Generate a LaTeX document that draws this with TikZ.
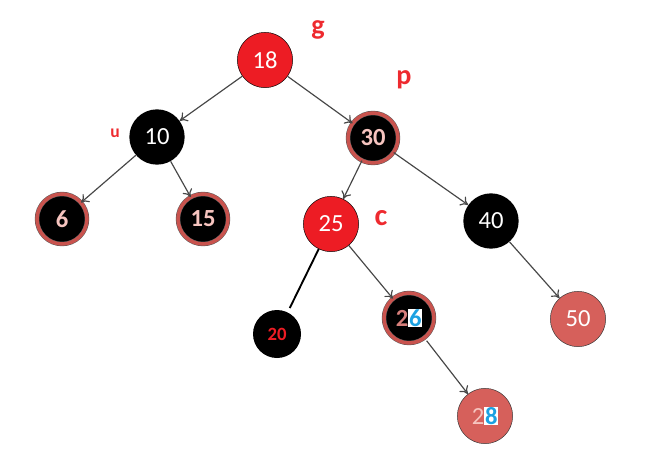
\documentclass[tikz,border=0pt]{standalone}
\usepackage{fontspec}
\setmainfont{Carlito}
\usetikzlibrary{arrows.meta}

\definecolor{rbred}{HTML}{ED1C24}
\definecolor{ringred}{HTML}{C9534E}
\definecolor{salmon}{HTML}{D6605B}
\definecolor{lblred}{HTML}{EE2A2F}
\definecolor{newblue}{HTML}{1BA1E2}
\definecolor{pinktext}{HTML}{F6C4BF}

\newcommand\bluedig[1]{{\setlength\fboxsep{0.6pt}\colorbox{white}{\color{newblue}\bfseries #1}}}

\begin{document}
\begin{tikzpicture}[
  x=0.03cm,y=-0.03cm,
  keynode/.style={circle,inner sep=0pt,minimum size=1.66cm,font=\fontsize{21}{22}\selectfont},
  rednode/.style={keynode,draw=black,fill=rbred,text=white},
  blacknode/.style={keynode,fill=black,text=white},
  ringnode/.style={keynode,draw=black!65,double=ringred,double distance=3pt,fill=black,text=pinktext,minimum size=1.5cm,font=\bfseries\fontsize{21}{22}\selectfont},
  salmonnode/.style={keynode,draw=black!80,fill=salmon,text=white},
  arrow/.style={-{To[length=2.2mm,width=3.2mm]},draw=black!72,line width=1pt},
  tag/.style={text=lblred,font=\bfseries\fontsize{24}{26}\selectfont}
]
\useasboundingbox (0,0) rectangle (666,471);

% keys
\node[rednode] (n18) at (265,60) {18};
\node[blacknode] (n10) at (157,137) {10};
\node[ringnode] (n30) at (373,138) {30};
\node[ringnode] (n6) at (62,219) {6};
\node[ringnode] (n15) at (203,219) {15};
\node[rednode] (n25) at (331,224) {25};
\node[blacknode] (n40) at (491,221) {40};
\node[keynode,fill=black,text=rbred,minimum size=1.44cm,font=\bfseries\fontsize{16}{17}\selectfont] (n20) at (277,334) {20};
\node[ringnode] (n26) at (409,318) {{\color{ringred!75!white}2}\bluedig{6}};
\node[salmonnode] (n50) at (578,319) {50};
\node[salmonnode] (n28) at (485,416) {{\color{pinktext}2}\bluedig{8}};

% tags
\node[tag] (g) at (318,30) {g};
\node[tag] (p) at (404,80) {p};
\node[tag,font=\bfseries\fontsize{15}{16}\selectfont] (u) at (115,133) {u};
\node[tag,font=\bfseries\fontsize{26}{28}\selectfont] (c) at (381,218) {c};

% edges
\draw[arrow] (n18) -- (n10);
\draw[arrow] (n18) -- (n30);
\draw[arrow] (n10) -- (n6);
\draw[arrow] (n10) -- (n15);
\draw[arrow] (n30) -- (n25);
\draw[arrow] (n30) -- (n40);
\draw[black,line width=1.6pt,shorten >=4pt] (n25) -- (n20);
\draw[arrow] (n25) -- (n26);
\draw[arrow] (n40) -- (n50);
\draw[arrow,shorten <=3pt] (n26) -- (n28);
\end{tikzpicture}
\end{document}
